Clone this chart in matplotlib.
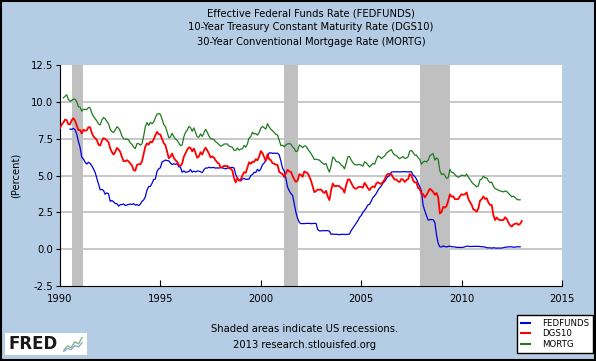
import numpy as np
import matplotlib
matplotlib.use("Agg")
from matplotlib import pyplot as plt
from matplotlib.patches import Rectangle
from matplotlib.lines import Line2D

# monthly values, FEDFUNDS from Jul 1990, DGS10 from Jan 1990, MORTG from Mar 1990
fedfunds = [8.15, 8.13, 8.20, 8.11, 7.81, 7.31,
            6.91, 6.25, 6.12, 5.91, 5.78, 5.90, 5.82, 5.66, 5.45, 5.21, 4.81, 4.43,
            4.03, 4.06, 3.98, 3.73, 3.82, 3.76, 3.25, 3.30, 3.22, 3.10, 3.09, 2.92,
            3.02, 3.03, 3.07, 2.96, 3.00, 3.04, 3.06, 3.03, 3.09, 2.99, 3.02, 2.96,
            3.05, 3.25, 3.34, 3.56, 4.01, 4.25, 4.26, 4.47, 4.73, 4.76, 5.29, 5.45,
            5.53, 5.92, 5.98, 6.05, 6.01, 6.00, 5.85, 5.74, 5.80, 5.76, 5.80, 5.60,
            5.56, 5.22, 5.31, 5.22, 5.24, 5.27, 5.40, 5.22, 5.30, 5.24, 5.31, 5.29,
            5.25, 5.19, 5.39, 5.51, 5.50, 5.56, 5.52, 5.54, 5.54, 5.50, 5.52, 5.50,
            5.56, 5.51, 5.49, 5.45, 5.49, 5.56, 5.54, 5.55, 5.51, 5.07, 4.83, 4.68,
            4.63, 4.76, 4.81, 4.74, 4.74, 4.76, 4.99, 5.07, 5.22, 5.20, 5.42, 5.30,
            5.45, 5.73, 5.85, 6.02, 6.27, 6.53, 6.54, 6.50, 6.52, 6.51, 6.51, 6.40,
            5.98, 5.49, 5.31, 4.80, 4.21, 3.97, 3.77, 3.65, 3.07, 2.49, 2.09, 1.82,
            1.73, 1.74, 1.73, 1.75, 1.75, 1.75, 1.73, 1.74, 1.75, 1.75, 1.34, 1.24,
            1.24, 1.26, 1.25, 1.26, 1.26, 1.22, 1.01, 1.03, 1.01, 1.01, 1.00, 0.98,
            1.00, 1.01, 1.00, 1.00, 1.00, 1.03, 1.26, 1.43, 1.61, 1.76, 1.93, 2.16,
            2.28, 2.50, 2.63, 2.79, 3.00, 3.04, 3.26, 3.50, 3.62, 3.78, 4.00, 4.16,
            4.29, 4.49, 4.59, 4.79, 4.94, 4.99, 5.24, 5.25, 5.25, 5.25, 5.25, 5.24,
            5.25, 5.26, 5.26, 5.25, 5.25, 5.25, 5.26, 5.02, 4.94, 4.76, 4.49, 4.24,
            3.94, 2.98, 2.61, 2.28, 1.98, 2.00, 2.01, 2.00, 1.81, 0.97, 0.39, 0.16,
            0.15, 0.22, 0.18, 0.15, 0.18, 0.21, 0.16, 0.16, 0.15, 0.12, 0.12, 0.12,
            0.11, 0.13, 0.16, 0.20, 0.20, 0.18, 0.18, 0.19, 0.19, 0.19, 0.19, 0.18,
            0.17, 0.16, 0.14, 0.10, 0.09, 0.09, 0.07, 0.10, 0.08, 0.07, 0.08, 0.07,
            0.08, 0.10, 0.13, 0.14, 0.16, 0.16, 0.16, 0.13, 0.14, 0.16, 0.16, 0.16]

dgs10 = [8.21, 8.47, 8.59, 8.79, 8.76, 8.48, 8.47, 8.75, 8.89, 8.72, 8.39, 8.08,
         8.09, 7.85, 8.11, 8.04, 8.07, 8.28, 8.27, 7.90, 7.65, 7.53, 7.42, 7.09,
         7.03, 7.34, 7.54, 7.48, 7.39, 7.26, 6.84, 6.59, 6.42, 6.59, 6.87, 6.77,
         6.60, 6.26, 5.98, 5.97, 6.04, 5.96, 5.81, 5.68, 5.36, 5.33, 5.72, 5.77,
         5.75, 5.97, 6.48, 6.97, 7.18, 7.10, 7.30, 7.24, 7.46, 7.74, 7.96, 7.81,
         7.78, 7.47, 7.20, 7.06, 6.63, 6.17, 6.28, 6.49, 6.20, 6.04, 5.93, 5.71,
         5.65, 5.81, 6.27, 6.51, 6.74, 6.91, 6.87, 6.64, 6.83, 6.53, 6.20, 6.30,
         6.58, 6.42, 6.69, 6.89, 6.71, 6.49, 6.22, 6.30, 6.21, 6.03, 5.88, 5.81,
         5.54, 5.57, 5.65, 5.64, 5.65, 5.50, 5.46, 5.34, 4.81, 4.53, 4.83, 4.65,
         4.72, 5.00, 5.23, 5.18, 5.54, 5.90, 5.79, 5.94, 5.92, 6.11, 6.03, 6.28,
         6.66, 6.52, 6.26, 5.99, 6.44, 6.10, 6.05, 5.83, 5.80, 5.74, 5.72, 5.24,
         5.16, 5.10, 4.89, 5.14, 5.39, 5.28, 5.24, 4.97, 4.73, 4.57, 4.65, 5.09,
         5.04, 4.91, 5.28, 5.21, 5.16, 4.93, 4.65, 4.26, 3.87, 3.94, 4.05, 4.03,
         4.05, 3.90, 3.81, 3.96, 3.57, 3.33, 3.98, 4.45, 4.27, 4.29, 4.30, 4.27,
         4.15, 4.08, 3.83, 4.35, 4.72, 4.73, 4.50, 4.28, 4.13, 4.10, 4.19, 4.23,
         4.22, 4.17, 4.50, 4.34, 4.14, 4.00, 4.18, 4.26, 4.20, 4.46, 4.54, 4.47,
         4.42, 4.57, 4.72, 4.99, 5.11, 5.11, 5.09, 4.88, 4.72, 4.73, 4.60, 4.56,
         4.76, 4.72, 4.56, 4.69, 4.75, 5.10, 5.00, 4.67, 4.52, 4.53, 4.15, 4.10,
         3.74, 3.74, 3.51, 3.68, 3.88, 4.10, 4.01, 3.89, 3.69, 3.81, 3.53, 2.42,
         2.52, 2.87, 2.82, 2.93, 3.29, 3.72, 3.56, 3.59, 3.40, 3.39, 3.40, 3.59,
         3.73, 3.69, 3.73, 3.85, 3.42, 3.20, 3.01, 2.70, 2.65, 2.54, 2.76, 3.29,
         3.39, 3.58, 3.41, 3.46, 3.17, 3.00, 3.00, 2.30, 1.98, 2.15, 2.01, 1.98,
         1.97, 1.97, 2.17, 2.05, 1.80, 1.62, 1.53, 1.68, 1.72, 1.75, 1.65, 1.72,
         1.91]

mortg = [10.27, 10.37, 10.48, 10.16, 10.04, 10.10, 10.18, 10.18, 10.01, 9.67,
         9.64, 9.37, 9.50, 9.49, 9.47, 9.62, 9.58, 9.24, 9.01, 8.86, 8.71, 8.50,
         8.43, 8.76, 8.94, 8.85, 8.67, 8.51, 8.13, 7.98, 7.92, 8.09, 8.31, 8.22,
         8.02, 7.68, 7.50, 7.47, 7.47, 7.42, 7.21, 7.11, 6.92, 6.83, 7.16, 7.17,
         7.06, 7.15, 7.68, 8.32, 8.60, 8.40, 8.61, 8.51, 8.64, 8.93, 9.17, 9.20,
         9.15, 8.83, 8.46, 8.32, 7.96, 7.57, 7.61, 7.86, 7.64, 7.48, 7.38, 7.20,
         7.03, 7.08, 7.62, 7.93, 8.07, 8.32, 8.25, 8.00, 8.23, 7.92, 7.62, 7.60,
         7.82, 7.65, 7.90, 8.14, 7.94, 7.69, 7.50, 7.48, 7.43, 7.29, 7.21, 7.10,
         6.99, 7.04, 7.13, 7.14, 7.14, 7.00, 6.95, 6.92, 6.72, 6.71, 6.87, 6.72,
         6.79, 6.81, 7.04, 6.92, 7.15, 7.55, 7.63, 7.94, 7.82, 7.85, 7.74, 7.91,
         8.21, 8.33, 8.24, 8.15, 8.52, 8.29, 8.15, 8.03, 7.91, 7.80, 7.75, 7.38,
         7.03, 7.05, 6.95, 7.08, 7.15, 7.16, 7.13, 6.95, 6.82, 6.62, 6.66, 7.07,
         7.00, 6.89, 7.01, 6.99, 6.81, 6.65, 6.49, 6.29, 6.09, 6.11, 6.07, 6.05,
         5.92, 5.84, 5.75, 5.81, 5.48, 5.23, 5.63, 6.26, 6.15, 5.95, 5.93, 5.88,
         5.71, 5.64, 5.45, 5.83, 6.27, 6.29, 6.06, 5.87, 5.75, 5.72, 5.73, 5.75,
         5.71, 5.63, 5.93, 5.86, 5.72, 5.58, 5.70, 5.82, 5.77, 6.07, 6.33, 6.27,
         6.15, 6.25, 6.32, 6.51, 6.60, 6.68, 6.76, 6.52, 6.40, 6.36, 6.24, 6.14,
         6.22, 6.29, 6.16, 6.18, 6.26, 6.66, 6.70, 6.57, 6.38, 6.38, 6.21, 6.10,
         5.76, 5.92, 5.97, 5.92, 6.04, 6.32, 6.43, 6.48, 6.04, 6.20, 6.09, 5.33,
         5.06, 5.13, 5.00, 4.81, 4.86, 5.42, 5.22, 5.19, 5.06, 4.95, 4.88, 4.93,
         5.03, 4.99, 4.97, 5.10, 4.89, 4.74, 4.56, 4.43, 4.35, 4.23, 4.30, 4.71,
         4.76, 4.95, 4.84, 4.84, 4.64, 4.51, 4.55, 4.27, 4.11, 4.07, 3.99, 3.96,
         3.92, 3.89, 3.95, 3.91, 3.80, 3.68, 3.55, 3.60, 3.50, 3.38, 3.35, 3.35]

recessions = [(1990.58, 1991.17), (2001.17, 2001.83), (2007.92, 2009.42)]
yticks = [-2.5, 0.0, 2.5, 5.0, 7.5, 10.0, 12.5]
xticks = [1990, 1995, 2000, 2005, 2010, 2015]
logo_icon = [1, 2, 1.6, 3, 2.5, 4]

bg = '#B4CCE4'


def months(start, vals):
    return start + np.arange(len(vals)) / 12.0


fig = plt.figure(figsize=(5.96, 3.61), dpi=100, facecolor=bg)
ax = fig.add_axes([60/596, 75/361, 502/596, 221/361])
ax.set_facecolor('white')

for a, b in recessions:
    ax.axvspan(a, b, color='#C0C0C0', lw=0, zorder=1)
for y in yticks[1:-1]:
    ax.axhline(y, color='#C8C8C8', lw=1.4, zorder=0.5)

ax.plot(months(1990.5, fedfunds), fedfunds, color='#0000DD', lw=0.9, zorder=3)
ax.plot(months(1990.0, dgs10), dgs10, color='#FF0000', lw=1.3, zorder=3)
ax.plot(months(1990 + 2/12, mortg), mortg, color='#1E7A1E', lw=0.9, zorder=3)

ax.set_xlim(1990, 2015)
ax.set_ylim(-2.5, 12.5)
ax.set_yticks(yticks)
ax.set_yticklabels(['%.1f' % v for v in yticks])
ax.set_xticks(xticks)
for s in ['top', 'right']:
    ax.spines[s].set_visible(False)
ax.tick_params(axis='y', direction='out', length=3, labelsize=7.2, pad=2)
ax.tick_params(axis='x', direction='in', length=4, labelsize=7.2, pad=6)
ax.set_ylabel('(Percent)', fontsize=7.2, labelpad=7)

fig.text(311/596, 1 - 13/361, 'Effective Federal Funds Rate (FEDFUNDS)',
         ha='center', va='center', fontsize=7.2)
fig.text(311/596, 1 - 27/361, '10-Year Treasury Constant Maturity Rate (DGS10)',
         ha='center', va='center', fontsize=7.2)
fig.text(311/596, 1 - 42/361, '30-Year Conventional Mortgage Rate (MORTG)',
         ha='center', va='center', fontsize=7.2)
fig.text(305/596, 1 - 329/361, 'Shaded areas indicate US recessions.',
         ha='center', va='center', fontsize=7.2)
fig.text(305/596, 1 - 345/361, '2013 research.stlouisfed.org',
         ha='center', va='center', fontsize=7.2)

# legend box
leg = ax.legend(handles=[Line2D([], [], color='#0000DD', lw=1.5),
                         Line2D([], [], color='#FF0000', lw=1.5),
                         Line2D([], [], color='#1E7A1E', lw=1.5)],
                labels=['FEDFUNDS', 'DGS10', 'MORTG'],
                loc='lower right', bbox_to_anchor=(593/596, 8/361),
                bbox_transform=fig.transFigure, fontsize=6.2,
                frameon=True, fancybox=False, edgecolor='black',
                facecolor='white', framealpha=1,
                handlelength=1.0, handletextpad=1.4, labelspacing=0.2,
                borderpad=0.45, borderaxespad=0)
leg.get_frame().set_linewidth(1.0)

# FRED logo
fig.patches.append(Rectangle((5/596, 6/361), 82/596, 22/361, transform=fig.transFigure,
                             facecolor='white', edgecolor='none', zorder=0))
fig.text(8/596, 17/361, 'FRED', fontsize=12, fontweight='bold', va='center',
         ha='left', color='#1A1A1A')
icon = fig.add_axes([63/596, 9/361, 20/596, 15/361], zorder=5)
icon.patch.set_alpha(0)
icon.plot(logo_icon, color='#7FB97F', lw=1)
icon.plot([v * 0.7 for v in logo_icon], color='#8FA8D8', lw=1)
icon.axis('off')

# outer border
fig.patches.append(Rectangle((0.002, 0.003), 0.996, 0.994, transform=fig.transFigure,
                             facecolor='none', edgecolor='black', lw=1.5))

fig.savefig('out.png', dpi=100, facecolor=bg)
